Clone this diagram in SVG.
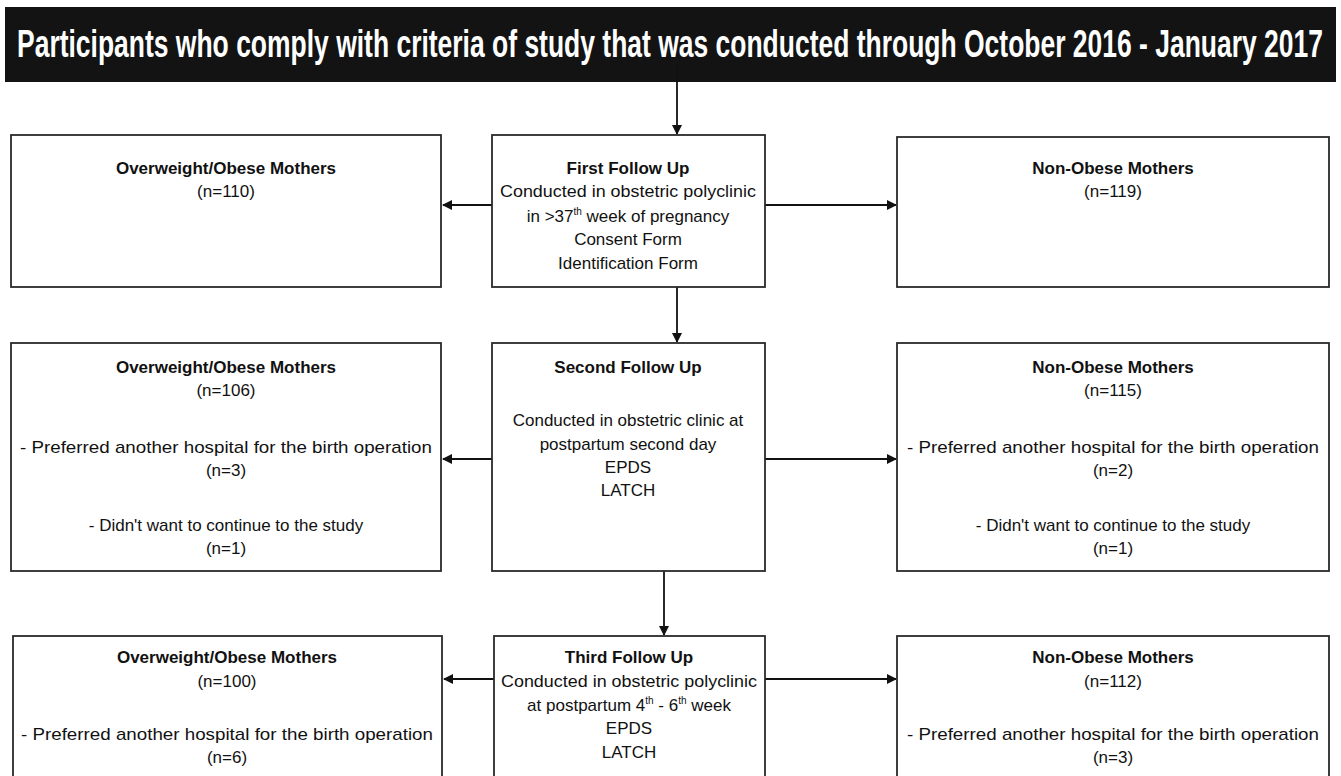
<svg xmlns="http://www.w3.org/2000/svg" width="1341" height="776" viewBox="0 0 1341 776">
<style>
.box{fill:#fff;stroke:#2a2a2a;stroke-width:1.8}
.t{font-family:"Liberation Sans",Arial,sans-serif;font-size:17px;fill:#111;text-anchor:middle}
.b{font-weight:bold}
.c{stroke:#111;stroke-width:1.8;fill:none}
.sup{font-size:10px}
</style>
<defs>
<marker id="ah" markerWidth="10" markerHeight="10" refX="9" refY="5" orient="auto" markerUnits="userSpaceOnUse">
<path d="M0,0 L10,5 L0,10 z" fill="#111"/>
</marker>
</defs>
<rect width="1341" height="776" fill="#fff"/>
<g id="header">
<rect x="5" y="7" width="1331" height="75" fill="#131313"/>
<text transform="translate(670,57) scale(1,1.58)" x="0" y="0" font-family="Liberation Sans,Arial,sans-serif" font-weight="bold" font-size="24" fill="#fff" text-anchor="middle" textLength="1306" lengthAdjust="spacingAndGlyphs">Participants who comply with criteria of study that was conducted through October 2016 - January 2017</text>
</g>
<g id="connectors">
<line class="c" x1="677" y1="65" x2="677" y2="134" marker-end="url(#ah)"/>
<line class="c" x1="492" y1="205" x2="443" y2="205" marker-end="url(#ah)"/>
<line class="c" x1="765" y1="205" x2="896" y2="205" marker-end="url(#ah)"/>
<line class="c" x1="677" y1="287" x2="677" y2="342" marker-end="url(#ah)"/>
<line class="c" x1="492" y1="459" x2="443" y2="459" marker-end="url(#ah)"/>
<line class="c" x1="765" y1="459" x2="896" y2="459" marker-end="url(#ah)"/>
<line class="c" x1="664" y1="571" x2="664" y2="635" marker-end="url(#ah)"/>
<line class="c" x1="494" y1="679" x2="444" y2="679" marker-end="url(#ah)"/>
<line class="c" x1="765" y1="679" x2="896" y2="679" marker-end="url(#ah)"/>
</g>
<g id="obese1">
<rect class="box" x="11" y="135" width="430" height="152"/>
<text class="t b" x="226" y="174">Overweight/Obese Mothers</text>
<text class="t" x="226" y="197">(n=110)</text>
</g>
<g id="follow1">
<rect class="box" x="492" y="135" width="273" height="152"/>
<text class="t b" x="628" y="174">First Follow Up</text>
<text class="t" x="628" y="197" textLength="256" lengthAdjust="spacingAndGlyphs">Conducted in obstetric polyclinic</text>
<text class="t" x="628" y="222">in &gt;37<tspan class="sup" dy="-7">th</tspan><tspan dy="7"> week of pregnancy</tspan></text>
<text class="t" x="628" y="245">Consent Form</text>
<text class="t" x="628" y="269">Identification Form</text>
</g>
<g id="nonobese1">
<rect class="box" x="897" y="137" width="432" height="150"/>
<text class="t b" x="1113" y="174">Non-Obese Mothers</text>
<text class="t" x="1113" y="197">(n=119)</text>
</g>
<g id="obese2">
<rect class="box" x="11" y="343" width="430" height="228"/>
<text class="t b" x="226" y="373">Overweight/Obese Mothers</text>
<text class="t" x="226" y="396">(n=106)</text>
<text class="t" x="226" y="453" textLength="412" lengthAdjust="spacingAndGlyphs">- Preferred another hospital for the birth operation</text>
<text class="t" x="226" y="476">(n=3)</text>
<text class="t" x="226" y="531">- Didn't want to continue to the study</text>
<text class="t" x="226" y="554">(n=1)</text>
</g>
<g id="follow2">
<rect class="box" x="492" y="343" width="273" height="228"/>
<text class="t b" x="628" y="373">Second Follow Up</text>
<text class="t" x="628" y="426">Conducted in obstetric clinic at</text>
<text class="t" x="628" y="450">postpartum second day</text>
<text class="t" x="628" y="473">EPDS</text>
<text class="t" x="628" y="496">LATCH</text>
</g>
<g id="nonobese2">
<rect class="box" x="897" y="343" width="432" height="228"/>
<text class="t b" x="1113" y="373">Non-Obese Mothers</text>
<text class="t" x="1113" y="396">(n=115)</text>
<text class="t" x="1113" y="453" textLength="412" lengthAdjust="spacingAndGlyphs">- Preferred another hospital for the birth operation</text>
<text class="t" x="1113" y="476">(n=2)</text>
<text class="t" x="1113" y="531">- Didn't want to continue to the study</text>
<text class="t" x="1113" y="554">(n=1)</text>
</g>
<g id="obese3">
<rect class="box" x="13" y="636" width="429" height="150"/>
<text class="t b" x="227" y="663">Overweight/Obese Mothers</text>
<text class="t" x="227" y="687">(n=100)</text>
<text class="t" x="227" y="740" textLength="412" lengthAdjust="spacingAndGlyphs">- Preferred another hospital for the birth operation</text>
<text class="t" x="227" y="763">(n=6)</text>
</g>
<g id="follow3">
<rect class="box" x="494" y="636" width="271" height="150"/>
<text class="t b" x="629" y="663">Third Follow Up</text>
<text class="t" x="629" y="687" textLength="256" lengthAdjust="spacingAndGlyphs">Conducted in obstetric polyclinic</text>
<text class="t" x="629" y="711">at postpartum 4<tspan class="sup" dy="-7">th</tspan><tspan dy="7"> - 6</tspan><tspan class="sup" dy="-7">th</tspan><tspan dy="7"> week</tspan></text>
<text class="t" x="629" y="734">EPDS</text>
<text class="t" x="629" y="758">LATCH</text>
</g>
<g id="nonobese3">
<rect class="box" x="897" y="636" width="432" height="150"/>
<text class="t b" x="1113" y="663">Non-Obese Mothers</text>
<text class="t" x="1113" y="687">(n=112)</text>
<text class="t" x="1113" y="740" textLength="412" lengthAdjust="spacingAndGlyphs">- Preferred another hospital for the birth operation</text>
<text class="t" x="1113" y="763">(n=3)</text>
</g>
</svg>
